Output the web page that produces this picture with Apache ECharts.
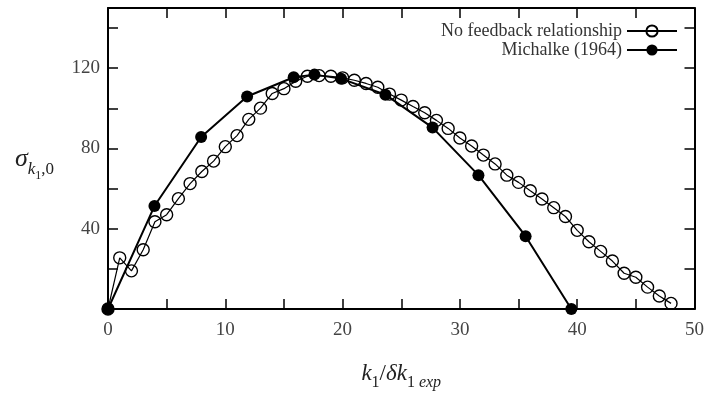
<!DOCTYPE html>
<html>
<head>
<meta charset="utf-8">
<script src="https://cdn.jsdelivr.net/npm/echarts@6/dist/echarts.min.js"></script>
<style>
  html, body { margin: 0; padding: 0; background: #fff; }
  #chart { width: 707px; height: 396px; }
</style>
</head>
<body>
<div id="chart"></div>
<script>
// k1 / delta k1_exp positions and growth rates sigma_{k1,0}
const noFeedbackX = [0, 1, 2, 3, 4, 5, 6, 7, 8, 9, 10, 11, 12, 13, 14, 15, 16, 17, 18, 19, 20,
  21, 22, 23, 24, 25, 26, 27, 28, 29, 30, 31, 32, 33, 34, 35, 36, 37, 38, 39, 40,
  41, 42, 43, 44, 45, 46, 47, 48];
const noFeedbackY = [0, 25.5, 19, 29.5, 43.5, 47, 55, 62.5, 68.5, 73.7, 80.9,
  86.4, 94.5, 100.1, 107.4, 109.8, 113.5, 116, 116.3, 116, 115.2,
  114, 112.4, 110.5, 107.1, 104.1, 100.9, 97.8, 94, 90, 85.2,
  81.2, 76.7, 72.3, 66.7, 63.1, 58.9, 54.8, 50.5, 46.1, 39.2,
  33.5, 28.7, 23.9, 17.8, 15.8, 10.9, 6.5, 2.8];

const michalkeX = [0, 3.96, 7.94, 11.86, 15.83, 17.6, 19.87, 23.65, 27.67, 31.58, 35.6, 39.5];
const michalkeY = [0, 51.3, 85.7, 105.9, 115.5, 116.8, 114.8, 106.8, 90.4, 66.7, 36.3, 0];

const xTickLabels = [0, 10, 20, 30, 40, 50];
const yTickLabels = [40, 80, 120];

const seriesNames = ['No feedback relationship', 'Michalke (1964)'];

const pairs = (xs, ys) => xs.map((x, i) => [x, ys[i]]);

const serif = 'Liberation Serif';
const tickStyle = { show: true, inside: true, length: 10, lineStyle: { color: '#000', width: 1.5 } };
const frameLine = { show: true, onZero: false, lineStyle: { color: '#000', width: 2 } };

const chart = echarts.init(document.getElementById('chart'));
chart.setOption({
  animation: false,
  backgroundColor: '#fff',
  grid: { left: 108, right: 11.5, top: 8, bottom: 78.5 },
  legend: {
    data: seriesNames,
    orient: 'vertical',
    right: 24,
    top: 17,
    align: 'right',
    itemWidth: 50,
    itemHeight: 14,
    itemGap: 1,
    textStyle: { fontFamily: serif, fontSize: 18, color: '#333' }
  },
  xAxis: [
    {
      type: 'value', min: 0, max: 50, interval: 5,
      axisLine: frameLine, axisTick: tickStyle, splitLine: { show: false },
      axisLabel: {
        margin: 12, fontFamily: serif, fontSize: 19, color: '#444',
        formatter: v => (xTickLabels.indexOf(v) >= 0 ? String(v) : '')
      },
      name: '{i|k}{sub|1}{n|/}{i|δk}{sub|1 }{subi|exp}',
      nameLocation: 'middle',
      nameGap: 50,
      nameTextStyle: {
        rich: {
          i: { fontFamily: serif, fontStyle: 'italic', fontSize: 23, color: '#222', verticalAlign: 'bottom', lineHeight: 26 },
          n: { fontFamily: serif, fontSize: 23, color: '#222', verticalAlign: 'bottom', lineHeight: 26 },
          sub: { fontFamily: serif, fontSize: 16, color: '#222', verticalAlign: 'bottom', lineHeight: 20, padding: [0, 0, -6, 0] },
          subi: { fontFamily: serif, fontStyle: 'italic', fontSize: 16, color: '#222', verticalAlign: 'bottom', lineHeight: 20, padding: [0, 0, -6, 0] }
        }
      }
    },
    {
      type: 'value', position: 'top', min: 0, max: 50, interval: 5,
      axisLine: frameLine, axisTick: tickStyle, axisLabel: { show: false }, splitLine: { show: false }
    }
  ],
  yAxis: [
    {
      type: 'value', min: 0, max: 150, interval: 20,
      axisLine: frameLine, axisTick: tickStyle, splitLine: { show: false },
      axisLabel: {
        margin: 8, fontFamily: serif, fontSize: 19, color: '#444',
        formatter: v => (yTickLabels.indexOf(v) >= 0 ? String(v) : '')
      },
      name: '{s|σ}{sub|k}{subsub|1}{subn|,0}',
      nameLocation: 'middle',
      nameRotate: 0,
      nameGap: 54,
      nameTextStyle: {
        rich: {
          s: { fontFamily: serif, fontStyle: 'italic', fontSize: 26, color: '#222', verticalAlign: 'bottom', lineHeight: 28 },
          sub: { fontFamily: serif, fontStyle: 'italic', fontSize: 17, color: '#222', verticalAlign: 'bottom', lineHeight: 20, padding: [0, 0, -6, 0] },
          subn: { fontFamily: serif, fontSize: 17, color: '#222', verticalAlign: 'bottom', lineHeight: 20, padding: [0, 0, -6, 0] },
          subsub: { fontFamily: serif, fontSize: 12, color: '#222', verticalAlign: 'bottom', lineHeight: 14, padding: [0, 0, -9, 0] }
        }
      }
    },
    {
      type: 'value', position: 'right', min: 0, max: 150, interval: 20,
      axisLine: frameLine, axisTick: tickStyle, axisLabel: { show: false }, splitLine: { show: false }
    }
  ],
  series: [
    {
      name: seriesNames[0],
      type: 'line',
      xAxisIndex: 0, yAxisIndex: 0,
      data: pairs(noFeedbackX, noFeedbackY),
      symbol: 'circle',
      symbolSize: 12,
      lineStyle: { color: '#000', width: 1.2 },
      itemStyle: { color: 'rgba(255,255,255,0)', borderColor: '#000', borderWidth: 1.4 },
      z: 2
    },
    {
      name: seriesNames[1],
      type: 'line',
      xAxisIndex: 0, yAxisIndex: 0,
      data: pairs(michalkeX, michalkeY),
      symbol: 'circle',
      symbolSize: 12,
      lineStyle: { color: '#000', width: 2 },
      itemStyle: { color: '#000' },
      z: 3
    }
  ]
});
</script>
</body>
</html>
